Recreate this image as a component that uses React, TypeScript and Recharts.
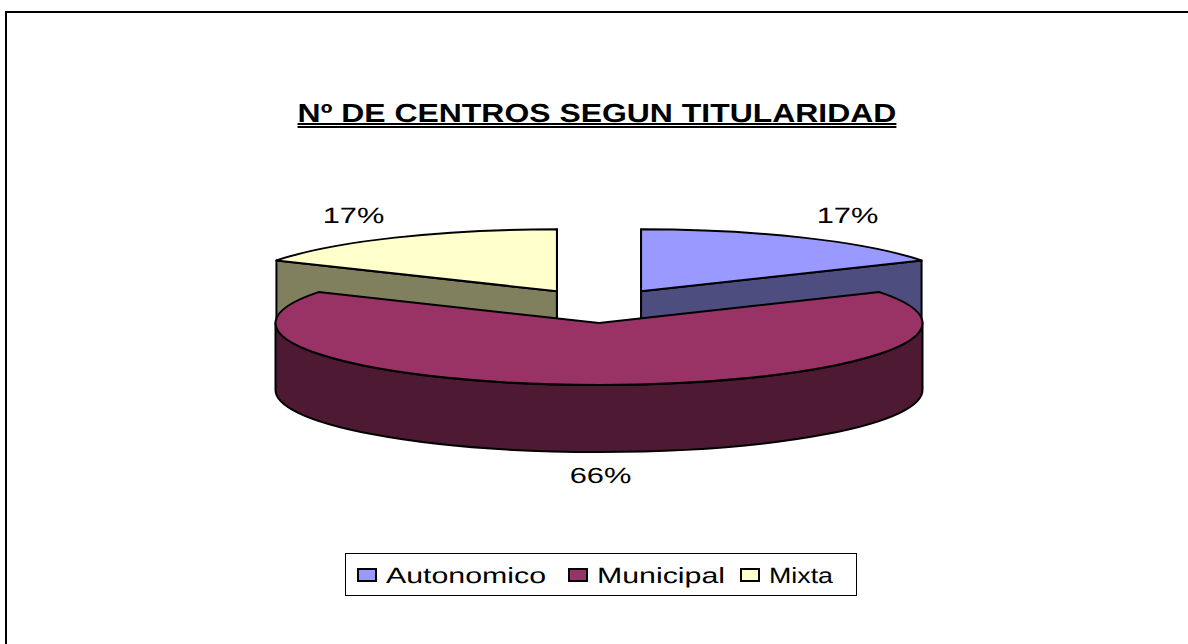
import React from "react";
import { Legend, Pie, PieChart } from "recharts";

const categories = ["Autonomico", "Municipal", "Mixta"];
const shares = [16.7, 66.6, 16.7];
const percentLabels = ["17%", "66%", "17%"];
const colors = ["#9999ff", "#993366", "#ffffcc"];
const sideColors = ["#4d4d80", "#4d1933", "#80805f"];

const pieData = categories.map((name, i) => ({
  name,
  value: shares[i],
  fill: colors[i],
  side: sideColors[i],
  percentLabel: percentLabels[i],
}));

const FONT = "'Liberation Sans', Arial, sans-serif";
const SQUASH = 62 / 323.5; // ellipse height / width of the tilted pie
const DEPTH = 67;
const EXPLODE_X = 84;
const EXPLODE_Y = 17;

// recharts angles are counter clockwise from 3 o'clock
const point = (cx: number, cy: number, r: number, deg: number) => {
  const a = (deg * Math.PI) / 180;
  return { x: cx + r * Math.cos(a), y: cy - r * Math.sin(a) * SQUASH };
};

const Slice3D = (props: any) => {
  const { cx, cy, outerRadius: r, startAngle, endAngle, midAngle, fill, payload } = props;
  const mid = (midAngle * Math.PI) / 180;
  const ox = cx + Math.cos(mid) * EXPLODE_X;
  const oy = cy - Math.sin(mid) * EXPLODE_Y;
  const a = point(ox, oy, r, startAngle);
  const b = point(ox, oy, r, endAngle);
  const rx = r;
  const ry = r * SQUASH;
  const large = Math.abs(endAngle - startAngle) > 180 ? 1 : 0;
  const top = `M${ox},${oy}L${a.x},${a.y}A${rx},${ry} 0 ${large} 1 ${b.x},${b.y}Z`;
  const face = (p: { x: number; y: number }) =>
    `M${ox},${oy}L${p.x},${p.y}V${p.y + DEPTH}L${ox},${oy + DEPTH}Z`;

  // outer wall only shows on the front half of the ellipse
  const front = large === 1;
  const wall = `M${ox - rx},${oy}A${rx},${ry} 0 0 0 ${ox + rx},${oy}V${oy + DEPTH}A${rx},${ry} 0 0 1 ${ox - rx},${oy + DEPTH}Z`;

  return (
    <g stroke="#000" strokeWidth={2} strokeLinejoin="round">
      {!front && <path d={face(a)} fill={payload.side} />}
      {!front && <path d={face(b)} fill={payload.side} />}
      {front && <path d={wall} fill={payload.side} />}
      <path d={top} fill={fill} />
    </g>
  );
};

const BackSlice = (props: any) => (props.name === "Municipal" ? <g /> : <Slice3D {...props} />);
const FrontSlice = (props: any) => (props.name === "Municipal" ? <Slice3D {...props} /> : <g />);

const renderPercent = (props: any) => {
  const { cx, cy, midAngle, percentLabel } = props;
  const mid = (midAngle * Math.PI) / 180;
  const below = Math.sin(mid) < 0;
  const x = cx + 1.5 + Math.cos(mid) * 493;
  const y = cy - Math.sin(mid) * 105 + (below ? 64 : 0);
  return (
    <text
      transform={`translate(${x},${y}) scale(1.4,1)`}
      textAnchor="middle"
      dominantBaseline="central"
      textRendering="geometricPrecision"
      fontFamily={FONT}
      fontSize={22}
      fill="#000"
    >
      {percentLabel}
    </text>
  );
};

// the legend text is stretched wide in the original
const legendTextWidths = [160, 128, 64];
const legendGaps = [22, 15, 0];

const LegendBox = ({ payload }: any) => (
  <div
    style={{
      display: "flex",
      alignItems: "center",
      boxSizing: "border-box",
      width: 512,
      height: 43,
      paddingLeft: 11,
      border: "1px solid #000",
      background: "#fff",
    }}
  >
    {categories.map((name, i) => {
      const entry = (payload || []).find((p: any) => p.value === name);
      return (
        <span key={name} style={{ display: "flex", alignItems: "center", marginRight: legendGaps[i] }}>
          <span
            style={{
              display: "inline-block",
              boxSizing: "border-box",
              width: 20,
              height: 14,
              marginRight: 9,
              border: "2px solid #000",
              background: entry ? entry.color : colors[i],
            }}
          />
          <svg width={legendTextWidths[i]} height={30} style={{ display: "block" }}>
            <text
              x={0}
              y={23}
              textLength={legendTextWidths[i]}
              lengthAdjust="spacingAndGlyphs"
              textRendering="geometricPrecision"
              fontFamily={FONT}
              fontSize={22}
              fill="#000"
            >
              {name}
            </text>
          </svg>
        </span>
      );
    })}
  </div>
);

export default function App() {
  return (
    <div style={{ position: "absolute", left: 0, top: 0, width: 1188, height: 644, background: "#fff", overflow: "hidden" }}>
      <div
        style={{
          position: "absolute",
          left: 5,
          top: 11,
          width: 1190,
          height: 640,
          boxSizing: "border-box",
          borderLeft: "2px solid #000",
          borderTop: "2px solid #000",
        }}
      />
      <div
        style={{
          position: "absolute",
          left: 0,
          top: 98,
          width: 1194,
          textAlign: "center",
          fontFamily: FONT,
          fontWeight: "bold",
          fontSize: 26,
          textRendering: "geometricPrecision",
          textDecorationLine: "underline",
          textDecorationStyle: "double",
          textDecorationThickness: 1.5,
          color: "#000",
          transform: "scaleX(1.228)",
          transformOrigin: "597px 0",
        }}
      >
        Nº DE CENTROS SEGUN TITULARIDAD
      </div>
      <PieChart width={1188} height={644} margin={{ top: 0, right: 0, bottom: 0, left: 0 }} style={{ position: "absolute", left: 0, top: 0 }}>
        <Pie
          data={pieData}
          dataKey="value"
          nameKey="name"
          cx={599}
          cy={306}
          outerRadius={323.5}
          startAngle={90}
          endAngle={-270}
          stroke="#000"
          shape={BackSlice}
          label={renderPercent}
          labelLine={false}
          isAnimationActive={false}
        />
        <Pie
          data={pieData}
          dataKey="value"
          nameKey="name"
          cx={599}
          cy={306}
          outerRadius={323.5}
          startAngle={90}
          endAngle={-270}
          stroke="#000"
          shape={FrontSlice}
          legendType="none"
          isAnimationActive={false}
        />
        <Legend
          content={<LegendBox />}
          layout="horizontal"
          wrapperStyle={{ position: "absolute", left: 345, top: 553, width: 512, height: 43, bottom: "auto" }}
        />
      </PieChart>
    </div>
  );
}
